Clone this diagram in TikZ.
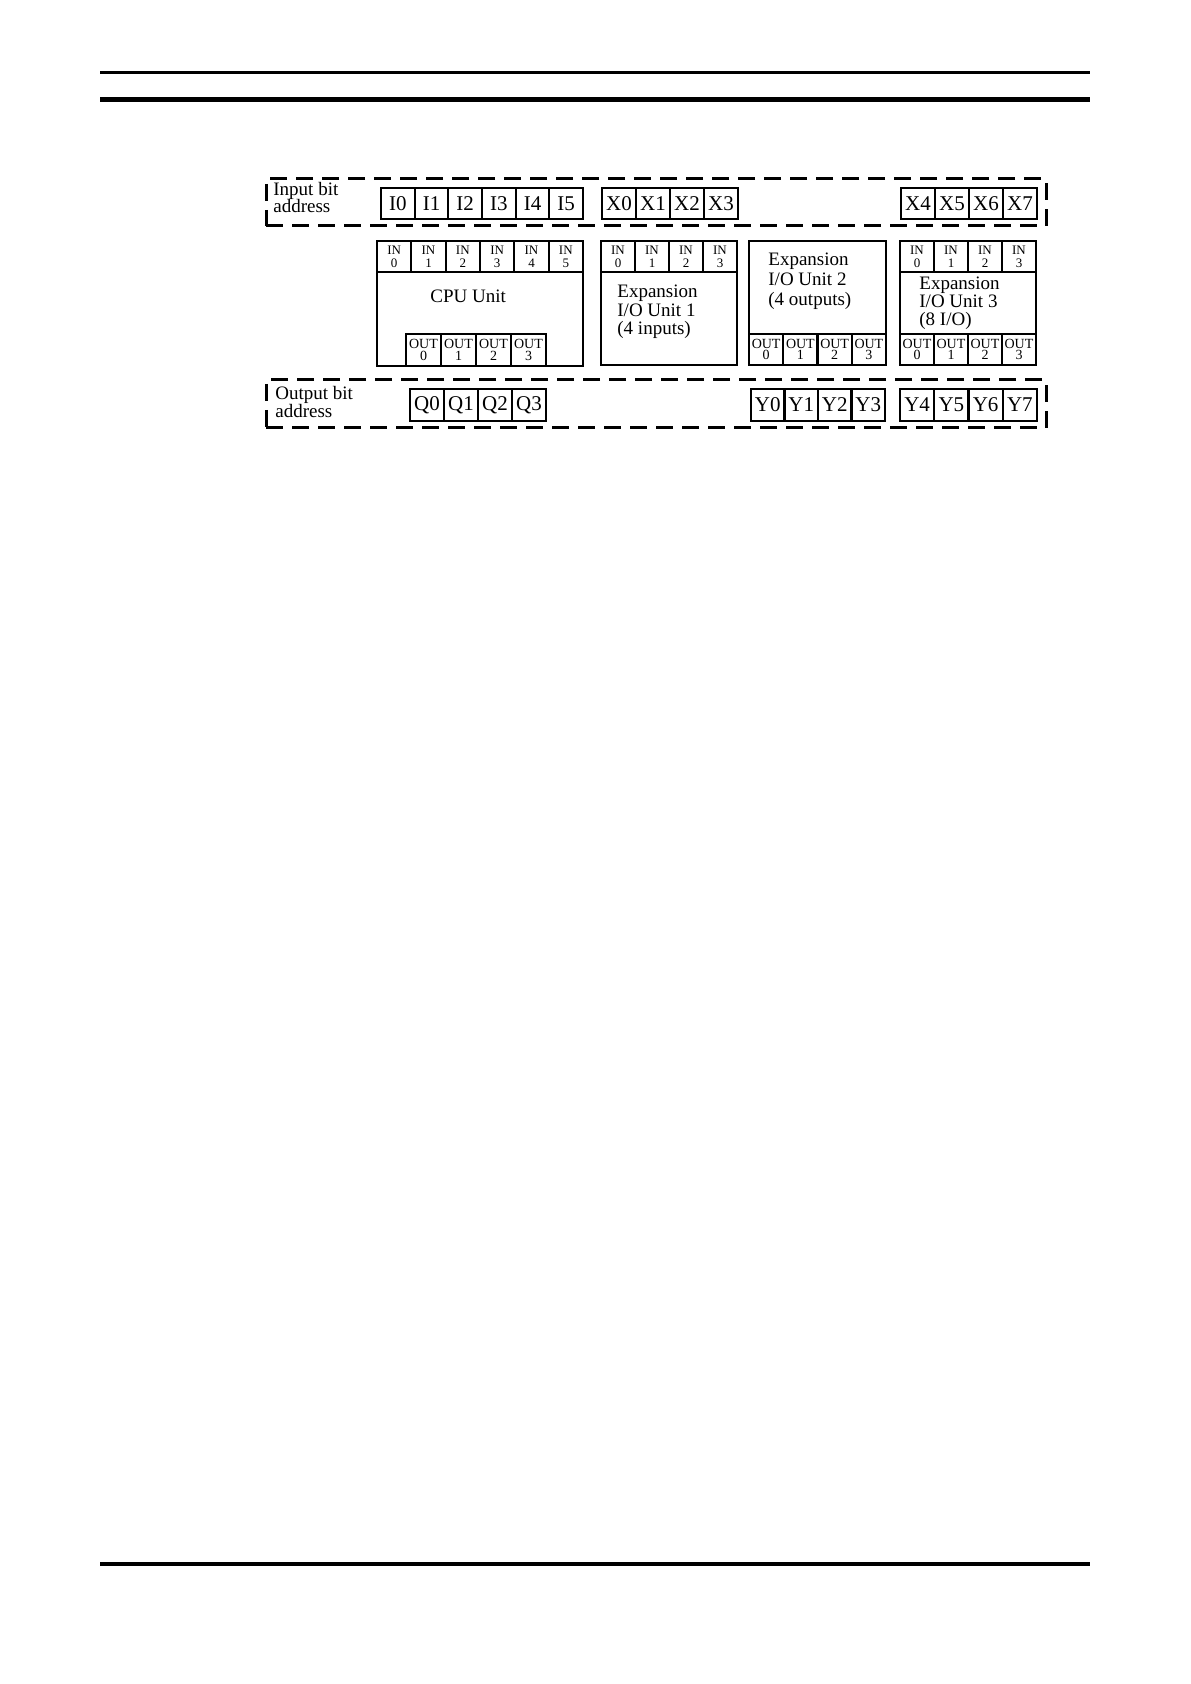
\documentclass[tikz,border=0pt]{standalone}
\usepackage{fontspec}
\setmainfont{Liberation Serif}
\begin{document}
\begin{tikzpicture}[x=0.5pt,y=-0.5pt,
  cell/.style={draw, line width=1.1pt, inner sep=0pt, minimum height=15.5pt, font=\fontsize{10.5}{12}\selectfont},
  iocell/.style={draw, line width=1.1pt, inner sep=0pt, minimum height=15.5pt, align=center, font=\fontsize{6.5}{6.5}\selectfont},
  outcell/.style={draw, line width=1.1pt, inner sep=0pt, minimum height=15.5pt, align=center, font=\fontsize{7}{5.8}\selectfont},
  unitbox/.style={draw, line width=1.1pt, inner sep=0pt},
  lbl/.style={anchor=base west, inner sep=0pt, font=\fontsize{9.5}{10}\selectfont},
  dashbox/.style={draw, line width=1.5pt, dash pattern=on 8.5pt off 4.5pt, inner sep=0pt}
]
\fill[white] (0,0) rectangle (1190,1684);
\useasboundingbox (0,0) rectangle (1190,1684);
% page rules
\draw[line width=1.5pt] (100,72.5) -- (1090,72.5);
\draw[line width=2.5pt] (100,99.5) -- (1090,99.5);
\draw[line width=2pt] (100,1564) -- (1090,1564);
% dashed address boxes
\node[dashbox, minimum width=390pt, minimum height=23.5pt] (inbox) at (656,202.5) {};
\node[dashbox, minimum width=390pt, minimum height=24pt] (outbox) at (656,404) {};
\node[lbl] (inl1) at (273,196) {Input bit};
\node[lbl] (inl2) at (273,213) {address};
\node[lbl] (outl1) at (275,400) {Output bit};
\node[lbl] (outl2) at (275,417) {address};
% input bit cells
\foreach \i in {0,...,5}
  \node[cell, minimum width=16.83pt] (I\i) at ({381+33.667*(\i+0.5)},203.5) {I\i};
\foreach \i in {0,...,3}
  \node[cell, minimum width=17pt] (X\i) at ({602+34*(\i+0.5)},203.5) {X\i};
\foreach \i in {4,...,7}
  \node[cell, minimum width=17pt] (X\i) at ({901+34*(\i-4+0.5)},203.5) {X\i};
% output bit cells
\foreach \i in {0,...,3}
  \node[cell, minimum width=17pt, minimum height=16pt] (Q\i) at ({410+34*(\i+0.5)},405) {Q\i};
\foreach \i in {0,...,3}
  \node[cell, minimum width=16.75pt, minimum height=16pt] (Y\i) at ({751+33.5*(\i+0.5)},405) {Y\i};
\foreach \i in {4,...,7}
  \node[cell, minimum width=17.1pt, minimum height=16pt] (Y\i) at ({900+34.25*(\i-4+0.5)},405) {Y\i};
% CPU unit
\node[unitbox, minimum width=103pt, minimum height=62.5pt] (cpu) at (480,303.5) {};
\foreach \i in {0,...,5}
  \node[iocell, minimum width=17.17pt] (cin\i) at ({377+34.333*(\i+0.5)},256.5) {IN\\\i};
\foreach \i in {0,...,3}
  \node[outcell, minimum width=17.5pt, minimum height=16pt] (cout\i) at ({406+35*(\i+0.5)},350) {OUT\\\i};
\node[lbl] (cputxt) at (430,303) {CPU Unit};
% Expansion unit 1
\node[unitbox, minimum width=68pt, minimum height=62pt] (u1) at (669,303) {};
\foreach \i in {0,...,3}
  \node[iocell, minimum width=17pt] (ain\i) at ({601+34*(\i+0.5)},256.5) {IN\\\i};
\node[lbl] (u1a) at (617,298) {Expansion};
\node[lbl] (u1b) at (617,317) {I/O Unit 1};
\node[lbl] (u1c) at (617,335) {(4 inputs)};
% Expansion unit 2
\node[unitbox, minimum width=68.5pt, minimum height=62pt] (u2) at (817.5,303) {};
\foreach \i in {0,...,3}
  \node[outcell, minimum width=17.125pt] (bout\i) at ({749+34.25*(\i+0.5)},349.5) {OUT\\\i};
\node[lbl] (u2a) at (768,266) {Expansion};
\node[lbl] (u2b) at (768,286) {I/O Unit 2};
\node[lbl] (u2c) at (768,306) {(4 outputs)};
% Expansion unit 3
\node[unitbox, minimum width=68pt, minimum height=62pt] (u3) at (968,303) {};
\foreach \i in {0,...,3}
  \node[iocell, minimum width=17pt] (din\i) at ({900+34*(\i+0.5)},256.5) {IN\\\i};
\foreach \i in {0,...,3}
  \node[outcell, minimum width=17pt] (dout\i) at ({900+34*(\i+0.5)},349.5) {OUT\\\i};
\node[lbl] (u3a) at (919,290) {Expansion};
\node[lbl] (u3b) at (919,308) {I/O Unit 3};
\node[lbl] (u3c) at (919,326) {(8 I/O)};
\end{tikzpicture}
\end{document}
